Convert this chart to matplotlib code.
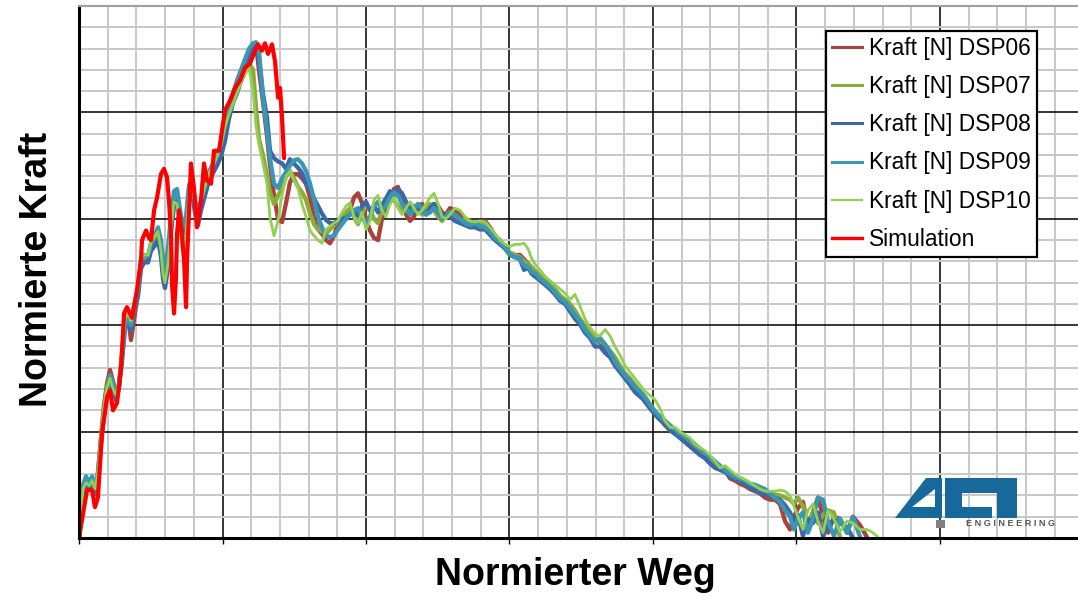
import numpy as np
import matplotlib
matplotlib.use("Agg")
import matplotlib.pyplot as plt
from matplotlib.path import Path
from matplotlib.patches import PathPatch, Rectangle
from matplotlib.transforms import Affine2D

plt.rcParams['font.family'] = ['Liberation Sans', 'DejaVu Sans']

# normierter Weg (gemeinsame Stuetzstellen der Versuche)
weg = [0.000, 0.028, 0.049, 0.070, 0.091, 0.111, 0.132, 0.153, 0.174, 0.195, 0.216, 0.237, 0.258, 0.279, 0.300,
       0.321, 0.341, 0.362, 0.383, 0.411, 0.432, 0.453, 0.481, 0.502, 0.530, 0.550, 0.571, 0.585, 0.599, 0.620,
       0.641, 0.662, 0.683, 0.704, 0.725, 0.746, 0.767, 0.787, 0.808, 0.829, 0.850, 0.878, 0.906, 0.934, 0.962,
       0.990, 1.017, 1.045, 1.073, 1.101, 1.129, 1.157, 1.185, 1.213, 1.233,
       1.254, 1.282, 1.310, 1.331, 1.359, 1.387, 1.415, 1.443, 1.470, 1.498, 1.526,
       1.554, 1.582, 1.610, 1.638, 1.666, 1.693, 1.721, 1.749, 1.777, 1.805, 1.833, 1.861, 1.889, 1.916, 1.944,
       1.972, 2.000, 2.028, 2.056, 2.084, 2.111, 2.139, 2.167, 2.195, 2.223, 2.251, 2.279, 2.307, 2.334, 2.362,
       2.390, 2.418, 2.446, 2.474, 2.502, 2.530, 2.557, 2.585, 2.620, 2.655, 2.690, 2.725, 2.760, 2.794, 2.829,
       2.864, 2.899, 2.934, 2.969,
       3.003, 3.038, 3.073, 3.101, 3.129, 3.157, 3.185, 3.213, 3.247, 3.282, 3.317, 3.352, 3.387, 3.422, 3.456,
       3.491, 3.526, 3.561, 3.596, 3.631, 3.666, 3.700, 3.735, 3.770, 3.805, 3.840, 3.875, 3.909, 3.944, 3.979,
       4.014, 4.049, 4.084, 4.118, 4.153, 4.188, 4.223, 4.258, 4.293, 4.328, 4.362, 4.397, 4.432, 4.467, 4.502,
       4.537, 4.571, 4.606, 4.641, 4.676, 4.711, 4.746, 4.780, 4.815, 4.850, 4.885, 4.920,
       4.955, 4.983, 5.010, 5.045, 5.080, 5.115, 5.150, 5.185, 5.220, 5.261, 5.303, 5.352, 5.394, 5.443, 5.491,
       5.533, 5.568]

dsp06 = [0.00, 0.47, 0.56, 0.48, 0.50, 0.44, 0.62, 0.95, 1.25, 1.45, 1.58, 1.47, 1.36, 1.44, 1.72,
         2.02, 2.08, 1.86, 2.05, 2.30, 2.58, 2.63, 2.62, 2.74, 2.80, 2.86, 2.70, 2.52, 2.45, 2.62,
         2.95, 3.20, 3.22, 3.05, 2.88, 2.97, 3.28, 3.33, 3.15, 3.02, 3.15, 3.30, 3.42, 3.50, 3.58,
         3.68, 3.86, 4.02, 4.14, 4.24, 4.34, 4.44, 4.54, 4.62, 4.64,
         4.40, 4.10, 3.78, 3.50, 3.22, 3.00, 2.97, 3.15, 3.34, 3.42, 3.42,
         3.38, 3.33, 3.20, 3.00, 2.90, 2.86, 2.80, 2.77, 2.84, 2.96, 2.98, 3.00, 3.08, 3.20, 3.24,
         3.15, 3.00, 2.89, 2.82, 2.80, 3.00, 3.12, 3.15, 3.28, 3.30, 3.16, 3.04, 2.98, 3.02, 3.12,
         3.14, 3.08, 3.10, 3.14, 3.12, 3.06, 3.04, 3.10, 3.08, 3.04, 3.00, 2.98, 2.96, 2.97, 2.98,
         2.92, 2.84, 2.78, 2.72,
         2.68, 2.66, 2.66, 2.62, 2.58, 2.54, 2.50, 2.46, 2.42, 2.38, 2.33, 2.27, 2.23, 2.19, 2.12,
         2.05, 1.98, 1.92, 1.86, 1.84, 1.80, 1.74, 1.67, 1.60, 1.54, 1.47, 1.40, 1.36, 1.28, 1.22,
         1.17, 1.12, 1.06, 1.02, 0.98, 0.96, 0.92, 0.88, 0.84, 0.80, 0.76, 0.72, 0.68, 0.66, 0.64,
         0.56, 0.54, 0.51, 0.49, 0.46, 0.44, 0.42, 0.38, 0.36, 0.36, 0.32, 0.16,
         0.08, 0.20, 0.28, 0.34, 0.10, 0.24, 0.38, 0.20, 0.05, 0.20, 0.18, 0.05, 0.20, 0.12, 0.01,
         None, None]

dsp07 = [0.00, 0.45, 0.53, 0.50, 0.55, 0.45, 0.60, 0.92, 1.20, 1.40, 1.52, 1.42, 1.33, 1.45, 1.74,
         2.04, 2.10, 2.02, 2.18, 2.33, 2.60, 2.64, 2.64, 2.76, 2.82, 2.85, 2.72, 2.50, 2.42, 2.60,
         2.92, 3.18, 3.20, 2.95, 2.72, 2.90, 3.25, 3.30, 3.12, 2.98, 3.14, 3.28, 3.40, 3.47, 3.55,
         3.66, 3.84, 3.98, 4.10, 4.20, 4.30, 4.38, 4.46, 4.40, 4.05,
         3.75, 3.60, 3.40, 3.25, 3.14, 3.22, 3.29, 3.40, 3.45, 3.38, 3.30,
         3.25, 3.18, 3.05, 2.95, 2.90, 2.88, 2.86, 2.90, 2.94, 2.98, 3.02, 3.06, 3.10, 3.02, 2.95,
         3.05, 3.12, 3.08, 3.00, 2.96, 3.08, 3.16, 3.22, 3.18, 3.12, 3.08, 3.10, 3.14, 3.12, 3.08,
         3.04, 3.10, 3.14, 3.08, 3.02, 2.98, 3.04, 3.06, 3.02, 2.98, 3.00, 2.96, 2.94, 2.95, 2.96,
         2.90, 2.84, 2.80, 2.74,
         2.68, 2.66, 2.64, 2.60, 2.58, 2.54, 2.50, 2.47, 2.44, 2.40, 2.34, 2.28, 2.24, 2.20, 2.14,
         2.06, 2.00, 1.94, 1.88, 1.85, 1.82, 1.76, 1.70, 1.62, 1.55, 1.50, 1.44, 1.38, 1.33, 1.26,
         1.19, 1.14, 1.10, 1.05, 1.00, 0.97, 0.93, 0.89, 0.86, 0.82, 0.78, 0.74, 0.70, 0.67, 0.64,
         0.60, 0.58, 0.56, 0.53, 0.50, 0.48, 0.45, 0.43, 0.42, 0.41, 0.40, 0.38,
         0.36, 0.32, 0.38, 0.30, 0.14, 0.24, 0.14, 0.22, 0.26, 0.24, 0.01, None, None, None, None,
         None, None]

dsp08 = [0.00, 0.43, 0.51, 0.47, 0.53, 0.41, 0.56, 0.87, 1.15, 1.34, 1.48, 1.39, 1.29, 1.41, 1.67,
         1.97, 2.03, 1.95, 2.14, 2.27, 2.53, 2.59, 2.59, 2.70, 2.75, 2.80, 2.65, 2.44, 2.35, 2.53,
         2.87, 3.12, 3.17, 2.98, 2.81, 2.91, 3.21, 3.25, 3.06, 2.94, 3.08, 3.22, 3.36, 3.43, 3.50,
         3.59, 3.73, 3.94, 4.09, 4.18, 4.30, 4.39, 4.50, 4.60, 4.62,
         4.50, 4.18, 3.95, 3.64, 3.57, 3.54, 3.52, 3.47, 3.56, 3.52, 3.48,
         3.43, 3.33, 3.28, 3.19, 3.12, 3.05, 2.99, 2.96, 2.96, 2.98, 3.00, 3.01, 3.04, 3.08, 3.03,
         3.12, 3.16, 3.08, 3.12, 3.06, 3.13, 3.19, 3.26, 3.22, 3.28, 3.24, 3.16, 3.10, 3.06, 3.10,
         3.08, 3.04, 3.10, 3.14, 3.08, 3.02, 3.04, 3.02, 2.98, 2.96, 2.94, 2.92, 2.92, 2.90, 2.90,
         2.85, 2.80, 2.76, 2.72,
         2.66, 2.64, 2.62, 2.52, 2.54, 2.48, 2.45, 2.42, 2.38, 2.34, 2.29, 2.23, 2.20, 2.13, 2.06,
         2.01, 1.93, 1.88, 1.80, 1.80, 1.74, 1.70, 1.62, 1.56, 1.50, 1.44, 1.37, 1.33, 1.29, 1.22,
         1.16, 1.11, 1.07, 1.01, 0.98, 0.94, 0.90, 0.86, 0.82, 0.78, 0.75, 0.70, 0.66, 0.64, 0.62,
         0.58, 0.56, 0.53, 0.51, 0.47, 0.45, 0.42, 0.42, 0.39, 0.38, 0.36, 0.31,
         0.24, 0.15, 0.22, 0.02, 0.18, 0.14, 0.24, 0.02, 0.12, 0.17, 0.14, 0.10, 0.00, None, None,
         None, None]

dsp09 = [0.00, 0.50, 0.58, 0.52, 0.58, 0.47, 0.60, 0.90, 1.18, 1.38, 1.53, 1.46, 1.35, 1.44, 1.70,
         2.00, 2.08, 2.00, 2.17, 2.34, 2.62, 2.66, 2.65, 2.77, 2.85, 2.92, 2.80, 2.62, 2.55, 2.72,
         3.02, 3.26, 3.28, 3.08, 2.92, 3.02, 3.32, 3.36, 3.18, 3.05, 3.18, 3.32, 3.44, 3.52, 3.60,
         3.70, 3.90, 4.05, 4.18, 4.30, 4.40, 4.50, 4.60, 4.65, 4.66,
         4.58, 4.14, 3.83, 3.57, 3.33, 3.29, 3.38, 3.44, 3.50, 3.55, 3.56,
         3.52, 3.45, 3.33, 3.18, 3.02, 2.92, 2.84, 2.83, 2.84, 2.90, 2.95, 3.00, 3.04, 3.08, 3.10,
         3.02, 2.95, 3.02, 3.12, 3.16, 3.08, 3.12, 3.20, 3.25, 3.22, 3.14, 3.08, 3.04, 3.10, 3.14,
         3.10, 3.04, 3.06, 3.10, 3.06, 3.00, 3.02, 3.06, 3.04, 3.00, 2.96, 2.94, 2.96, 2.93, 2.92,
         2.88, 2.82, 2.78, 2.73,
         2.66, 2.64, 2.63, 2.56, 2.55, 2.50, 2.48, 2.44, 2.40, 2.36, 2.31, 2.25, 2.22, 2.16, 2.10,
         2.04, 1.96, 1.90, 1.84, 1.88, 1.82, 1.75, 1.66, 1.59, 1.53, 1.48, 1.42, 1.38, 1.32, 1.25,
         1.19, 1.14, 1.10, 1.06, 1.02, 0.98, 0.96, 0.92, 0.88, 0.84, 0.80, 0.76, 0.72, 0.68, 0.64,
         0.60, 0.57, 0.56, 0.54, 0.51, 0.50, 0.48, 0.46, 0.42, 0.38, 0.34, 0.26,
         0.20, 0.08, 0.18, 0.24, 0.05, 0.18, 0.38, 0.36, 0.15, 0.02, 0.18, 0.05, 0.20, 0.01, None,
         None, None]

dsp10 = [0.00, 0.46, 0.52, 0.49, 0.54, 0.46, 0.62, 0.97, 1.24, 1.42, 1.50, 1.40, 1.34, 1.47, 1.76,
         2.06, 2.11, 2.04, 2.20, 2.35, 2.63, 2.66, 2.66, 2.78, 2.84, 2.88, 2.70, 2.48, 2.40, 2.58,
         2.90, 3.16, 3.14, 2.90, 2.66, 2.86, 3.24, 3.32, 3.14, 3.00, 3.16, 3.30, 3.43, 3.50, 3.58,
         3.70, 3.86, 3.98, 4.08, 4.18, 4.28, 4.36, 4.42, 4.20, 3.88,
         3.70, 3.52, 3.33, 3.01, 2.84, 2.98, 3.22, 3.40, 3.45, 3.36, 3.29,
         3.14, 3.02, 2.89, 2.84, 2.80, 2.77, 2.90, 2.93, 2.96, 2.98, 3.06, 3.12, 3.15, 3.02, 2.96,
         3.06, 2.90, 2.98, 3.18, 3.22, 3.08, 3.02, 3.14, 3.20, 3.10, 3.04, 3.10, 3.16, 3.10, 3.04,
         3.08, 3.14, 3.20, 3.24, 3.14, 3.02, 3.00, 3.04, 3.10, 3.08, 3.02, 2.98, 2.97, 2.98, 2.97,
         2.92, 2.86, 2.80, 2.76,
         2.74, 2.76, 2.76, 2.77, 2.72, 2.62, 2.56, 2.52, 2.46, 2.42, 2.38, 2.34, 2.30, 2.24, 2.29,
         2.18, 2.06, 1.98, 1.92, 1.90, 1.96, 1.90, 1.80, 1.72, 1.62, 1.56, 1.50, 1.44, 1.38, 1.34,
         1.30, 1.22, 1.10, 1.04, 1.04, 1.00, 0.97, 0.94, 0.88, 0.85, 0.82, 0.78, 0.72, 0.66, 0.68,
         0.64, 0.60, 0.57, 0.55, 0.52, 0.49, 0.46, 0.44, 0.44, 0.44, 0.45, 0.44,
         0.40, 0.30, 0.20, 0.08, 0.26, 0.32, 0.16, 0.05, 0.26, 0.18, 0.06, 0.16, 0.14, 0.08, 0.08,
         0.05, 0.01]

sim_weg = [0.000, 0.021, 0.056, 0.091, 0.111, 0.132, 0.160, 0.195, 0.216, 0.237, 0.265, 0.293, 0.314, 0.334,
           0.369, 0.404, 0.432, 0.439, 0.467, 0.488, 0.502, 0.523, 0.544, 0.571, 0.592, 0.613, 0.627, 0.641,
           0.648, 0.662, 0.676, 0.683, 0.697, 0.711, 0.732, 0.746, 0.753, 0.780, 0.801, 0.822, 0.850, 0.871,
           0.892, 0.920, 0.941, 0.976, 1.017, 1.052, 1.087, 1.122, 1.157, 1.192, 1.226, 1.247, 1.275, 1.296,
           1.317, 1.345, 1.366, 1.387, 1.401, 1.415, 1.429]
sim_kraft = [0.00, 0.17, 0.45, 0.45, 0.29, 0.38, 0.98, 1.32, 1.39, 1.20, 1.27, 1.60, 2.11, 2.17,
             2.07, 2.33, 2.61, 2.80, 2.89, 2.82, 2.80, 3.08, 3.20, 3.42, 3.47, 3.39, 3.17, 2.86,
             2.39, 2.11, 2.45, 2.86, 3.08, 2.95, 2.61, 2.17, 2.61, 3.52, 3.29, 2.92, 3.17, 3.52,
             3.36, 3.33, 3.64, 3.64, 4.02, 4.11, 4.23, 4.30, 4.42, 4.46, 4.58, 4.64, 4.58, 4.65,
             4.55, 4.64, 4.48, 4.14, 4.23, 3.95, 3.57]

series = [
    ("Kraft [N] DSP06", dsp06, "#a9423e", 3.1),
    ("Kraft [N] DSP07", dsp07, "#8dab3c", 3.1),
    ("Kraft [N] DSP08", dsp08, "#3d67a8", 3.1),
    ("Kraft [N] DSP09", dsp09, "#3a97b3", 3.1),
    ("Kraft [N] DSP10", dsp10, "#92d050", 2.0),
]

fig = plt.figure(figsize=(10.78, 5.96), dpi=100)
ax = fig.add_axes([0.0733, 0.0973, 0.9267, 0.8926])

x = np.array(weg, dtype=float)
handles = []
for name, vals, col, lw in series:
    ax.plot(x, np.array(vals, dtype=float), color=col, lw=lw,
            solid_joinstyle="round", solid_capstyle="round")
    handles.append(plt.Line2D([], [], color=col, lw=2.2 if lw > 2.5 else 1.6, label=name))
ax.plot(sim_weg, sim_kraft, color="#ff0000", lw=3.0,
        solid_joinstyle="round", solid_capstyle="round")
handles.append(plt.Line2D([], [], color="#ff0000", lw=2.4, label="Simulation"))

ax.set_xlim(0, 6.962)
ax.set_ylim(0, 5)
ax.set_xticks(np.arange(0, 7, 1))
ax.set_xticks(np.arange(0, 7.0, 0.2), minor=True)
ax.set_yticks(np.arange(0, 5, 1))
ax.set_yticks(np.arange(0, 5.01, 0.2), minor=True)
ax.set_axisbelow(True)
ax.grid(which="minor", color="#c8c8c8", lw=1.4)
ax.grid(which="major", color="black", lw=1.1)
ax.tick_params(labelbottom=False, labelleft=False)
ax.tick_params(axis="x", which="major", direction="out", length=4, width=1, color="black")
ax.tick_params(axis="y", which="major", length=0)
ax.tick_params(which="minor", length=0)
for s in ["left", "bottom"]:
    ax.spines[s].set_linewidth(2.2)
    ax.spines[s].set_color("black")
ax.spines["top"].set_color("#a0a0a0")
ax.spines["top"].set_linewidth(1.5)
ax.spines["right"].set_visible(False)

leg = ax.legend(handles=handles, loc="upper left", bbox_to_anchor=(826 / 1078, 1 - 31 / 596),
                bbox_transform=fig.transFigure, fancybox=False, edgecolor="black", framealpha=1,
                borderpad=0.25, labelspacing=0.67, handlelength=1.35, handletextpad=0.3,
                borderaxespad=0, prop={"size": 16.4})
leg.get_frame().set_linewidth(1.6)

fig.text(575 / 1078, 1 - 575 / 596, "Normierter Weg", ha="center", va="center",
         fontsize=27, fontweight="bold")
fig.text(37 / 1078, 1 - 269 / 596, "Normierte Kraft", ha="center", va="center",
         rotation=90, fontsize=27, fontweight="bold")

# logo (pixel coordinates of the picture)
px = Affine2D().scale(1 / 1078, -1 / 596).translate(0, 1) + fig.transFigure
four = Path([(895, 518), (926, 478), (942, 478), (942, 518), (895, 518),
             (912, 507), (935, 507), (935, 489), (912, 507)],
            [Path.MOVETO, Path.LINETO, Path.LINETO, Path.LINETO, Path.CLOSEPOLY,
             Path.MOVETO, Path.LINETO, Path.LINETO, Path.CLOSEPOLY])
ci = Path([(945, 478), (1017, 478), (1017, 518), (997, 518), (997, 493), (962, 493),
           (962, 507), (992, 507), (992, 518), (945, 518), (945, 478)],
          [Path.MOVETO] + [Path.LINETO] * 9 + [Path.CLOSEPOLY])
for p in (four, ci):
    fig.add_artist(PathPatch(p, transform=px, facecolor="#17699b", edgecolor="none", zorder=10))
fig.add_artist(Rectangle((936, 520), 9, 8, transform=px, facecolor="#808080", edgecolor="none", zorder=10))
fig.text(1011 / 1078, 1 - 524 / 596, "E N G I N E E R I N G", ha="center", va="center",
         fontsize=6.6, fontweight="bold", color="#555555", zorder=10)

fig.savefig("out.png", dpi=100)
